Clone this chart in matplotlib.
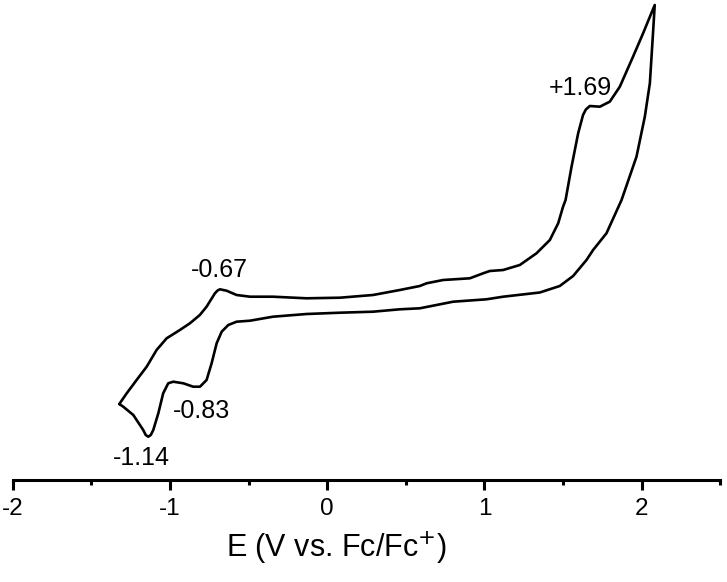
import matplotlib
matplotlib.use("Agg")
import matplotlib.pyplot as plt
from matplotlib.ticker import MultipleLocator

plt.rcParams['font.family'] = ['Liberation Sans', 'DejaVu Sans']
plt.rcParams['axes.unicode_minus'] = False

# Forward (anodic) branch: potential E (V vs Fc/Fc+) and current (arb. units)
E_fwd = [-1.322, -1.275, -1.212, -1.148, -1.085, -1.021, -0.937, -0.873, -0.810, -0.767,
         -0.714, -0.697, -0.682, -0.640, -0.576, -0.491, -0.345, -0.131, 0.081, 0.291, 0.462,
         0.589, 0.632, 0.737, 0.907, 0.992, 1.034, 1.119, 1.225, 1.331, 1.416, 1.469,
         1.500, 1.516, 1.554, 1.596, 1.627, 1.645, 1.670, 1.734, 1.797, 1.861, 1.945, 2.009, 2.083]
I_fwd = [7.6, 8.67, 10.0, 11.33, 13.0, 14.17, 15.0, 15.67, 16.5, 17.33,
         18.67, 18.95, 19.07, 18.93, 18.5, 18.33, 18.33, 18.17, 18.23, 18.5, 19.0,
         19.4, 19.67, 20.0, 20.17, 20.67, 20.9, 21.0, 21.5, 22.67, 24.0, 25.67,
         27.33, 28.0, 31.33, 34.67, 36.5, 37.05, 37.4, 37.33, 37.83, 39.33, 42.33, 44.67, 47.5]

# Reverse (cathodic) branch
E_rev = [2.083, 2.072, 2.052, 2.020, 1.967, 1.872, 1.776, 1.691, 1.649, 1.564, 1.479,
         1.352, 1.119, 1.013, 0.801, 0.589, 0.462, 0.291, 0.081, -0.131, -0.345,
         -0.491, -0.576, -0.629, -0.671, -0.703, -0.735, -0.767, -0.809, -0.852,
         -0.915, -0.979, -1.011, -1.043, -1.074, -1.106, -1.122, -1.138, -1.154, -1.170, -1.233,
         -1.297, -1.322]
I_rev = [47.5, 44.67, 39.67, 36.33, 32.33, 28.0, 24.67, 23.0, 22.0, 20.4, 19.4,
         18.75, 18.33, 18.07, 17.83, 17.17, 17.07, 16.83, 16.73, 16.6, 16.33,
         15.93, 15.83, 15.5, 14.83, 13.67, 11.67, 10.0, 9.33, 9.33,
         9.67, 9.83, 9.67, 8.67, 6.67, 5.0, 4.5, 4.33, 4.5, 5.0, 6.5,
         7.33, 7.6]

# Peak annotations: label, E position, current position (baseline)
peak_labels = ['+1.69', '-0.67', '-0.83', '-1.14']
peak_E = [1.610, -0.688, -0.798, -1.184]
peak_I = [38.5, 20.3, 6.2, 1.5]

x_ticks = [-2, -1, 0, 1, 2]

W, H = 727, 582
fig = plt.figure(figsize=(W / 100, H / 100), dpi=100)
ax = fig.add_axes([12.7 / W, 1 - 480 / H, 707.6 / W, 480 / H])

ax.plot(E_fwd + E_rev, I_fwd + I_rev, color='black', lw=1.9,
        solid_joinstyle='round', solid_capstyle='round', clip_on=False)

for lab, e, i in zip(peak_labels, peak_E, peak_I):
    ax.text(e, i, lab, ha='center', va='baseline', fontsize=18, clip_on=False)

ax.set_xlim(-2, 2.5)
ax.set_ylim(0, 48)
for s in ['top', 'left', 'right']:
    ax.spines[s].set_visible(False)
ax.spines['bottom'].set_linewidth(2.2)
ax.set_yticks([])
ax.set_xticks(x_ticks)
ax.xaxis.set_minor_locator(MultipleLocator(0.5))
ax.tick_params(axis='x', which='major', direction='out', length=7, width=2.2,
               labelsize=17.5, pad=6)
ax.tick_params(axis='x', which='minor', direction='out', length=3.8, width=2.2)
ax.set_xlabel('E (V vs. Fc/Fc$^{+}$)', fontsize=22)
ax.xaxis.set_label_coords((336 - 12.7) / 707.6, -68 / 480)
ax.xaxis.label.set_va('center')
ax.patch.set_alpha(0)

fig.savefig('out.png', dpi=100)
